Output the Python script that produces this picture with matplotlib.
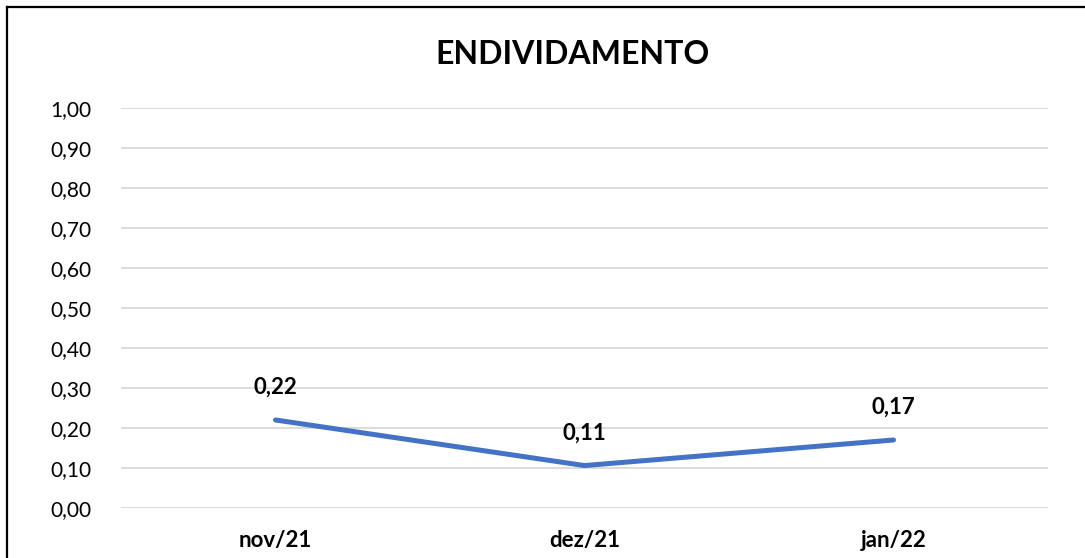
import matplotlib
matplotlib.use("Agg")
import matplotlib.pyplot as plt
from matplotlib.lines import Line2D

categories = ["nov/21", "dez/21", "jan/22"]
values = [0.22, 0.106, 0.17]
yticks = [0.0, 0.1, 0.2, 0.3, 0.4, 0.5, 0.6, 0.7, 0.8, 0.9, 1.0]
title = "ENDIVIDAMENTO"

plt.rcParams['font.family'] = ['Lato', 'DejaVu Sans']

W, H = 1085, 558
fig = plt.figure(figsize=(W/100, H/100), dpi=100)
ax = fig.add_axes([121/W, 1-508/H, (1048-121)/W, 400/H])

x = list(range(len(categories)))
ax.plot(x, values, color="#4472C4", lw=3.6, solid_capstyle="round", zorder=3)
for xi, v in zip(x, values):
    ax.annotate(f"{v:.2f}".replace(".", ","), (xi, v), xytext=(0, 16),
                textcoords="offset points", ha="center", va="bottom",
                fontsize=16, fontweight="bold", color="black")

ax.set_xlim(-0.5, len(categories)-0.5)
ax.set_ylim(-0.0001, 1.0001)
ax.set_yticks(yticks)
ax.set_yticklabels([f"{t:.2f}".replace(".", ",") for t in yticks], fontsize=15)
ax.set_xticks(x)
ax.set_xticklabels(categories, fontsize=16, fontweight="bold")
ax.tick_params(length=0)
ax.tick_params(axis='y', pad=21)
ax.tick_params(axis='x', pad=16)
ax.grid(axis='y', color="#D9D9D9", lw=1.3)
ax.set_axisbelow(True)
for s in ax.spines.values():
    s.set_visible(False)

fig.text(573/W, 1-55/H, title, ha="center", va="center", fontsize=23, fontweight="bold")

fig.add_artist(Line2D([7/W, 7/W], [0, 1-7/H], color="black", lw=1.6, transform=fig.transFigure))
fig.add_artist(Line2D([7/W, 1], [1-7/H, 1-7/H], color="black", lw=1.6, transform=fig.transFigure))

fig.savefig("out.png", dpi=100)
